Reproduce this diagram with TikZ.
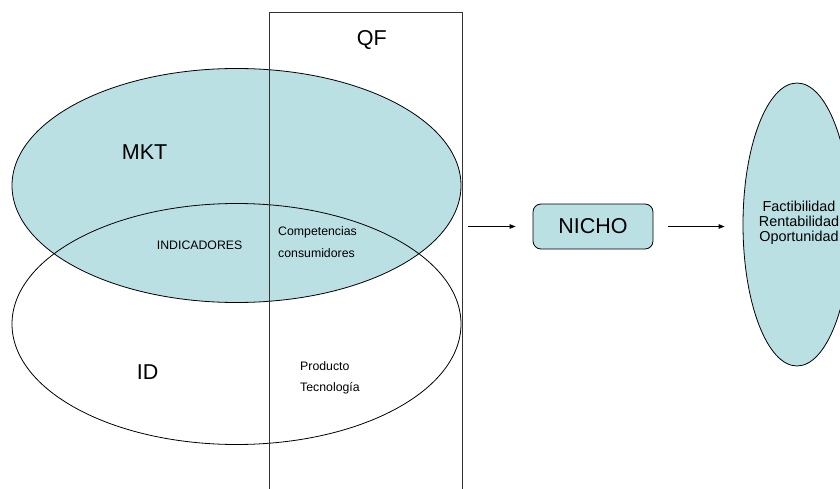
\documentclass[tikz,border=0pt]{standalone}
\usepackage{fontspec}
\setmainfont{Liberation Sans}
\usetikzlibrary{shapes.geometric,arrows.meta}
\definecolor{paleteal}{RGB}{187,224,227}
\begin{document}
\begin{tikzpicture}[x=1pt,y=-1pt,
  outline/.style={draw=black, line width=0.8pt},
  big/.style={font=\fontsize{21.5}{26}\selectfont, inner sep=0pt},
  small/.style={font=\fontsize{12.3}{15}\selectfont, inner sep=0pt},
  mid/.style={font=\fontsize{14.4}{15}\selectfont, inner sep=0pt},
  arr/.style={draw=black, line width=0.8pt, -{Triangle[length=6pt,width=4.5pt]}},
]
\useasboundingbox (0,0) rectangle (840,489);
\clip (0,0) rectangle (840,489);

% overlapping sets: MKT (filled) and ID (outline only)
\node[ellipse, outline, fill=paleteal, inner sep=0pt, minimum width=449pt, minimum height=234pt] (mkt) at (236.5,185.5) {};
\node[ellipse, outline, inner sep=0pt, minimum width=449pt, minimum height=241pt] (id) at (236.5,324) {};

% QF band, open at the bottom
\node[rectangle, draw=black!80, line width=0.8pt, inner sep=0pt, minimum width=193pt, minimum height=500pt, anchor=north west] (qf) at (268.5,12) {};

% labels of the sets
\node[big, anchor=base west] (qflbl) at (356.7,46) {QF};
\node[big, anchor=base west] (mktlbl) at (121.7,159.3) {MKT};
\node[big, anchor=base west] (idlbl) at (136.7,379.3) {ID};
\node[small, anchor=base west] (ind) at (156.7,249.3) {INDICADORES};
\node[small, anchor=base west] (comp) at (278,235.6) {Competencias};
\node[small, anchor=base west] (cons) at (278,257.4) {consumidores};
\node[small, anchor=base west] (prod) at (300,370) {Producto};
\node[small, anchor=base west] (tec) at (300,391.8) {Tecnología};

% niche and its evaluation
\node[rectangle, rounded corners=8pt, outline, fill=paleteal, minimum width=120pt, minimum height=45pt, big] (nicho) at (593,226.5) {NICHO};
\node[ellipse, outline, fill=paleteal, inner sep=0pt, minimum width=108pt, minimum height=283pt] (fact) at (797,224.5) {};
\node[mid, anchor=base] (f1) at (799,211.7) {Factibilidad};
\node[mid, anchor=base] (f2) at (799,226.7) {Rentabilidad};
\node[mid, anchor=base] (f3) at (799,241.7) {Oportunidad};

% flow arrows
\draw[arr, shorten <=6pt, shorten >=17pt] (qf.east |- nicho.west) -- (nicho.west);
\draw[arr, shorten <=15pt, shorten >=18pt] (nicho.east) -- (nicho.east -| fact.west);
\end{tikzpicture}
\end{document}
